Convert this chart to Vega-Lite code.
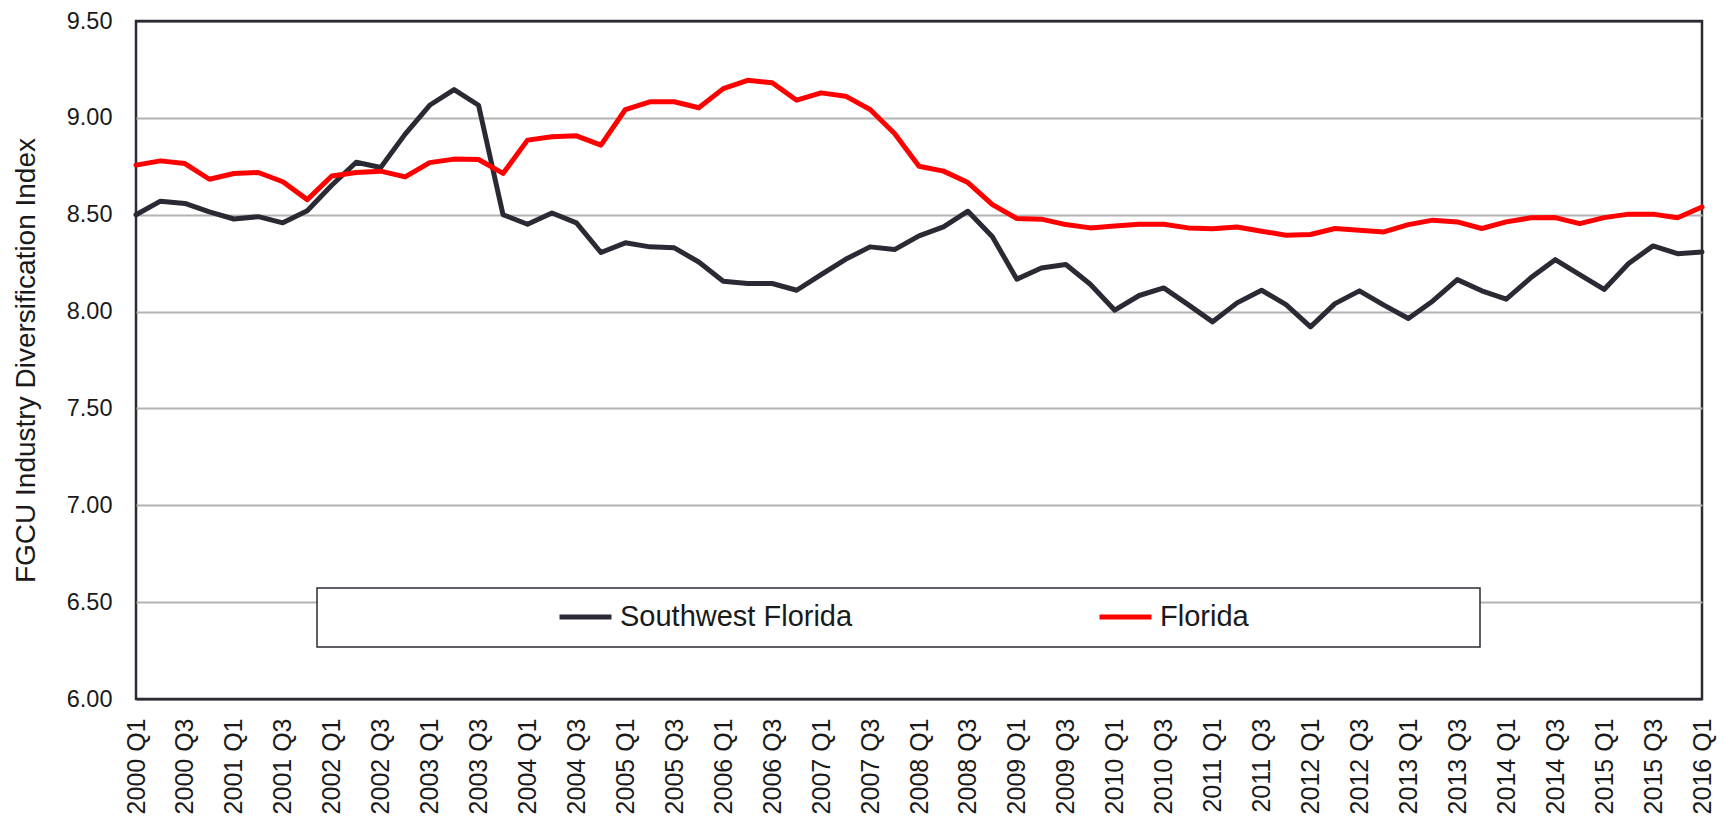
{
  "$schema": "https://vega.github.io/schema/vega-lite/v6.json",
  "width": 1566,
  "height": 678,
  "autosize": {"type": "none"},
  "padding": {"left": 136, "top": 21, "right": 22, "bottom": 121},
  "background": "white",
  "config": {
    "font": "Liberation Sans",
    "view": {"stroke": "#2b2b35", "strokeWidth": 2.5},
    "legend": {"strokeWidth": 1.5}
  },
  "data": {
    "values": [
      {"quarter":"2000 Q1","region":"Southwest Florida","index":8.500},
      {"quarter":"2000 Q2","region":"Southwest Florida","index":8.570},
      {"quarter":"2000 Q3","region":"Southwest Florida","index":8.558},
      {"quarter":"2000 Q4","region":"Southwest Florida","index":8.515},
      {"quarter":"2001 Q1","region":"Southwest Florida","index":8.478},
      {"quarter":"2001 Q2","region":"Southwest Florida","index":8.490},
      {"quarter":"2001 Q3","region":"Southwest Florida","index":8.458},
      {"quarter":"2001 Q4","region":"Southwest Florida","index":8.520},
      {"quarter":"2002 Q1","region":"Southwest Florida","index":8.652},
      {"quarter":"2002 Q2","region":"Southwest Florida","index":8.771},
      {"quarter":"2002 Q3","region":"Southwest Florida","index":8.744},
      {"quarter":"2002 Q4","region":"Southwest Florida","index":8.916},
      {"quarter":"2003 Q1","region":"Southwest Florida","index":9.065},
      {"quarter":"2003 Q2","region":"Southwest Florida","index":9.146},
      {"quarter":"2003 Q3","region":"Southwest Florida","index":9.065},
      {"quarter":"2003 Q4","region":"Southwest Florida","index":8.500},
      {"quarter":"2004 Q1","region":"Southwest Florida","index":8.451},
      {"quarter":"2004 Q2","region":"Southwest Florida","index":8.509},
      {"quarter":"2004 Q3","region":"Southwest Florida","index":8.458},
      {"quarter":"2004 Q4","region":"Southwest Florida","index":8.305},
      {"quarter":"2005 Q1","region":"Southwest Florida","index":8.355},
      {"quarter":"2005 Q2","region":"Southwest Florida","index":8.334},
      {"quarter":"2005 Q3","region":"Southwest Florida","index":8.329},
      {"quarter":"2005 Q4","region":"Southwest Florida","index":8.256},
      {"quarter":"2006 Q1","region":"Southwest Florida","index":8.157},
      {"quarter":"2006 Q2","region":"Southwest Florida","index":8.145},
      {"quarter":"2006 Q3","region":"Southwest Florida","index":8.145},
      {"quarter":"2006 Q4","region":"Southwest Florida","index":8.110},
      {"quarter":"2007 Q1","region":"Southwest Florida","index":8.191},
      {"quarter":"2007 Q2","region":"Southwest Florida","index":8.270},
      {"quarter":"2007 Q3","region":"Southwest Florida","index":8.334},
      {"quarter":"2007 Q4","region":"Southwest Florida","index":8.320},
      {"quarter":"2008 Q1","region":"Southwest Florida","index":8.391},
      {"quarter":"2008 Q2","region":"Southwest Florida","index":8.437},
      {"quarter":"2008 Q3","region":"Southwest Florida","index":8.518},
      {"quarter":"2008 Q4","region":"Southwest Florida","index":8.386},
      {"quarter":"2009 Q1","region":"Southwest Florida","index":8.167},
      {"quarter":"2009 Q2","region":"Southwest Florida","index":8.225},
      {"quarter":"2009 Q3","region":"Southwest Florida","index":8.243},
      {"quarter":"2009 Q4","region":"Southwest Florida","index":8.141},
      {"quarter":"2010 Q1","region":"Southwest Florida","index":8.007},
      {"quarter":"2010 Q2","region":"Southwest Florida","index":8.083},
      {"quarter":"2010 Q3","region":"Southwest Florida","index":8.122},
      {"quarter":"2010 Q4","region":"Southwest Florida","index":8.036},
      {"quarter":"2011 Q1","region":"Southwest Florida","index":7.947},
      {"quarter":"2011 Q2","region":"Southwest Florida","index":8.045},
      {"quarter":"2011 Q3","region":"Southwest Florida","index":8.110},
      {"quarter":"2011 Q4","region":"Southwest Florida","index":8.036},
      {"quarter":"2012 Q1","region":"Southwest Florida","index":7.921},
      {"quarter":"2012 Q2","region":"Southwest Florida","index":8.041},
      {"quarter":"2012 Q3","region":"Southwest Florida","index":8.107},
      {"quarter":"2012 Q4","region":"Southwest Florida","index":8.033},
      {"quarter":"2013 Q1","region":"Southwest Florida","index":7.964},
      {"quarter":"2013 Q2","region":"Southwest Florida","index":8.055},
      {"quarter":"2013 Q3","region":"Southwest Florida","index":8.165},
      {"quarter":"2013 Q4","region":"Southwest Florida","index":8.107},
      {"quarter":"2014 Q1","region":"Southwest Florida","index":8.064},
      {"quarter":"2014 Q2","region":"Southwest Florida","index":8.174},
      {"quarter":"2014 Q3","region":"Southwest Florida","index":8.268},
      {"quarter":"2014 Q4","region":"Southwest Florida","index":8.191},
      {"quarter":"2015 Q1","region":"Southwest Florida","index":8.114},
      {"quarter":"2015 Q2","region":"Southwest Florida","index":8.248},
      {"quarter":"2015 Q3","region":"Southwest Florida","index":8.339},
      {"quarter":"2015 Q4","region":"Southwest Florida","index":8.299},
      {"quarter":"2016 Q1","region":"Southwest Florida","index":8.308},
      {"quarter":"2000 Q1","region":"Florida","index":8.756},
      {"quarter":"2000 Q2","region":"Florida","index":8.778},
      {"quarter":"2000 Q3","region":"Florida","index":8.764},
      {"quarter":"2000 Q4","region":"Florida","index":8.683},
      {"quarter":"2001 Q1","region":"Florida","index":8.713},
      {"quarter":"2001 Q2","region":"Florida","index":8.718},
      {"quarter":"2001 Q3","region":"Florida","index":8.670},
      {"quarter":"2001 Q4","region":"Florida","index":8.578},
      {"quarter":"2002 Q1","region":"Florida","index":8.700},
      {"quarter":"2002 Q2","region":"Florida","index":8.718},
      {"quarter":"2002 Q3","region":"Florida","index":8.725},
      {"quarter":"2002 Q4","region":"Florida","index":8.695},
      {"quarter":"2003 Q1","region":"Florida","index":8.769},
      {"quarter":"2003 Q2","region":"Florida","index":8.787},
      {"quarter":"2003 Q3","region":"Florida","index":8.785},
      {"quarter":"2003 Q4","region":"Florida","index":8.713},
      {"quarter":"2004 Q1","region":"Florida","index":8.885},
      {"quarter":"2004 Q2","region":"Florida","index":8.902},
      {"quarter":"2004 Q3","region":"Florida","index":8.907},
      {"quarter":"2004 Q4","region":"Florida","index":8.859},
      {"quarter":"2005 Q1","region":"Florida","index":9.043},
      {"quarter":"2005 Q2","region":"Florida","index":9.083},
      {"quarter":"2005 Q3","region":"Florida","index":9.083},
      {"quarter":"2005 Q4","region":"Florida","index":9.052},
      {"quarter":"2006 Q1","region":"Florida","index":9.151},
      {"quarter":"2006 Q2","region":"Florida","index":9.194},
      {"quarter":"2006 Q3","region":"Florida","index":9.181},
      {"quarter":"2006 Q4","region":"Florida","index":9.091},
      {"quarter":"2007 Q1","region":"Florida","index":9.129},
      {"quarter":"2007 Q2","region":"Florida","index":9.112},
      {"quarter":"2007 Q3","region":"Florida","index":9.043},
      {"quarter":"2007 Q4","region":"Florida","index":8.919},
      {"quarter":"2008 Q1","region":"Florida","index":8.750},
      {"quarter":"2008 Q2","region":"Florida","index":8.725},
      {"quarter":"2008 Q3","region":"Florida","index":8.666},
      {"quarter":"2008 Q4","region":"Florida","index":8.552},
      {"quarter":"2009 Q1","region":"Florida","index":8.480},
      {"quarter":"2009 Q2","region":"Florida","index":8.477},
      {"quarter":"2009 Q3","region":"Florida","index":8.449},
      {"quarter":"2009 Q4","region":"Florida","index":8.432},
      {"quarter":"2010 Q1","region":"Florida","index":8.442},
      {"quarter":"2010 Q2","region":"Florida","index":8.451},
      {"quarter":"2010 Q3","region":"Florida","index":8.451},
      {"quarter":"2010 Q4","region":"Florida","index":8.432},
      {"quarter":"2011 Q1","region":"Florida","index":8.427},
      {"quarter":"2011 Q2","region":"Florida","index":8.437},
      {"quarter":"2011 Q3","region":"Florida","index":8.415},
      {"quarter":"2011 Q4","region":"Florida","index":8.394},
      {"quarter":"2012 Q1","region":"Florida","index":8.398},
      {"quarter":"2012 Q2","region":"Florida","index":8.429},
      {"quarter":"2012 Q3","region":"Florida","index":8.420},
      {"quarter":"2012 Q4","region":"Florida","index":8.411},
      {"quarter":"2013 Q1","region":"Florida","index":8.449},
      {"quarter":"2013 Q2","region":"Florida","index":8.472},
      {"quarter":"2013 Q3","region":"Florida","index":8.463},
      {"quarter":"2013 Q4","region":"Florida","index":8.429},
      {"quarter":"2014 Q1","region":"Florida","index":8.463},
      {"quarter":"2014 Q2","region":"Florida","index":8.484},
      {"quarter":"2014 Q3","region":"Florida","index":8.485},
      {"quarter":"2014 Q4","region":"Florida","index":8.454},
      {"quarter":"2015 Q1","region":"Florida","index":8.485},
      {"quarter":"2015 Q2","region":"Florida","index":8.503},
      {"quarter":"2015 Q3","region":"Florida","index":8.503},
      {"quarter":"2015 Q4","region":"Florida","index":8.484},
      {"quarter":"2016 Q1","region":"Florida","index":8.540}
    ]
  },
  "mark": {"type": "line", "strokeWidth": 5, "strokeJoin": "round", "strokeCap": "round"},
  "encoding": {
    "x": {
      "field": "quarter",
      "type": "ordinal",
      "scale": {"type": "point", "padding": 0},
      "axis": {
        "title": null,
        "values": ["2000 Q1","2000 Q3","2001 Q1","2001 Q3","2002 Q1","2002 Q3","2003 Q1","2003 Q3","2004 Q1","2004 Q3","2005 Q1","2005 Q3","2006 Q1","2006 Q3","2007 Q1","2007 Q3","2008 Q1","2008 Q3","2009 Q1","2009 Q3","2010 Q1","2010 Q3","2011 Q1","2011 Q3","2012 Q1","2012 Q3","2013 Q1","2013 Q3","2014 Q1","2014 Q3","2015 Q1","2015 Q3","2016 Q1"],
        "labelAngle": 270,
        "labelAlign": "right",
        "labelBaseline": "middle",
        "labelFontSize": 25,
        "labelColor": "#1a1a1a",
        "labelPadding": 19,
        "labelOverlap": false,
        "labelFlush": false,
        "ticks": false,
        "domain": false,
        "grid": false
      }
    },
    "y": {
      "field": "index",
      "type": "quantitative",
      "scale": {"domain": [6, 9.5], "zero": false, "nice": false},
      "axis": {
        "title": "FGCU Industry Diversification Index",
        "titleFontSize": 28,
        "titleFontWeight": "normal",
        "titleColor": "#1a1a1a",
        "titlePadding": 26,
        "values": [6, 6.5, 7, 7.5, 8, 8.5, 9, 9.5],
        "format": ".2f",
        "labelFontSize": 23.5,
        "labelColor": "#1a1a1a",
        "labelPadding": 24,
        "labelFlush": false,
        "ticks": false,
        "domain": false,
        "grid": true,
        "gridColor": {"condition": {"test": "datum.value <= 6 || datum.value >= 9.5", "value": "#2b2b35"}, "value": "#b3b3b3"},
        "gridWidth": 2
      }
    },
    "color": {
      "field": "region",
      "type": "nominal",
      "scale": {"domain": ["Southwest Florida", "Florida"], "range": ["#2a2a35", "#ff0000"]},
      "legend": {
        "orient": "none",
        "legendX": 181,
        "legendY": 567,
        "direction": "horizontal",
        "title": " ",
        "titleOrient": "left",
        "titlePadding": 225,
        "titleFontSize": 28,
        "labelFontSize": 29,
        "labelColor": "#1a1a1a",
        "labelOffset": 6,
        "labelLimit": 600,
        "symbolType": "stroke",
        "symbolSize": 2704,
        "symbolStrokeWidth": 5,
        "clipHeight": 28,
        "columnPadding": 172,
        "gridAlign": "all",
        "padding": 15,
        "strokeColor": "#2b2b35",
        "fillColor": "white",
        "encode": {
          "entries": {"update": {"width": {"value": 368}}}
        }
      }
    }
  }
}
